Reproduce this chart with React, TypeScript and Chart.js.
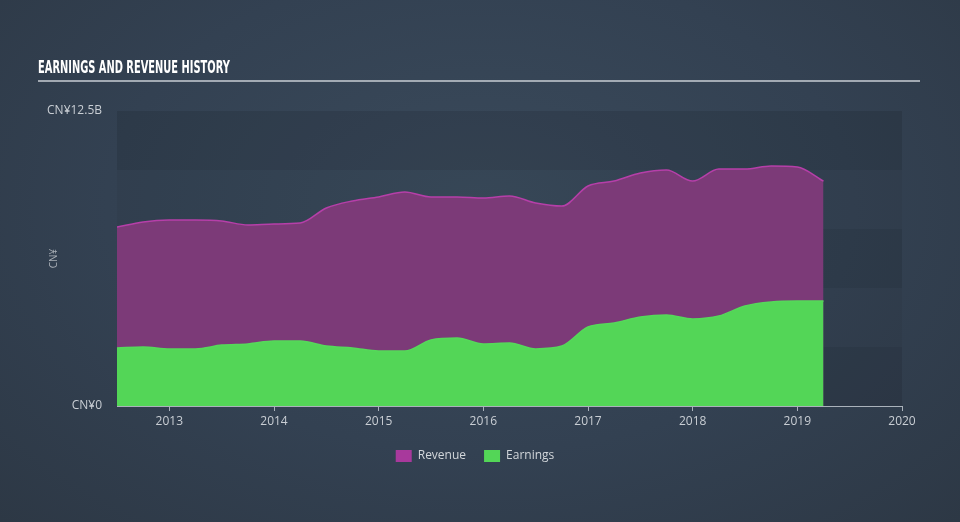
import React, { useEffect, useRef } from "react";
import { Chart, registerables } from "chart.js";

Chart.register(...registerables);

const years = [
  2012.5, 2012.75, 2013.0, 2013.25, 2013.5, 2013.75, 2014.0, 2014.25, 2014.5, 2014.75,
  2015.0, 2015.25, 2015.5, 2015.75, 2016.0, 2016.25, 2016.5, 2016.75, 2017.0, 2017.25,
  2017.5, 2017.75, 2018.0, 2018.25, 2018.5, 2018.75, 2019.0, 2019.25,
];

const revenue = [
  7.58, 7.8, 7.88, 7.88, 7.84, 7.67, 7.71, 7.75, 8.39, 8.69,
  8.86, 9.07, 8.86, 8.86, 8.81, 8.9, 8.6, 8.47, 9.32, 9.53,
  9.87, 10.0, 9.53, 10.04, 10.04, 10.17, 10.13, 9.53,
];

const earnings = [
  2.46, 2.5, 2.42, 2.42, 2.58, 2.63, 2.75, 2.75, 2.54, 2.46,
  2.33, 2.33, 2.8, 2.88, 2.63, 2.67, 2.42, 2.54, 3.35, 3.52,
  3.77, 3.86, 3.69, 3.81, 4.24, 4.41, 4.45, 4.45,
];

const yTickLabels: Record<string, string> = { "0": "CN¥0", "12.5": "CN¥12.5B" };
const xMin = 2012.5;
const xMax = 2020;
const yMax = 12.5;
const yStep = 2.5;

const bandPlugin = {
  id: "bands",
  beforeDraw(chart: any) {
    const { ctx, chartArea, scales } = chart;
    const y = scales.y;
    ctx.save();
    let i = 0;
    for (let v = 0; v < yMax - 1e-9; v += yStep) {
      const top = y.getPixelForValue(v + yStep);
      const bottom = y.getPixelForValue(v);
      ctx.fillStyle = i % 2 === 0 ? "rgba(0,0,0,0.10)" : "rgba(0,0,0,0.04)";
      ctx.fillRect(chartArea.left, top, chartArea.right - chartArea.left, bottom - top);
      i++;
    }
    ctx.restore();
  },
};

export default function App() {
  const canvasRef = useRef<HTMLCanvasElement>(null);
  const titleRef = useRef<HTMLDivElement>(null);

  useEffect(() => {
    if (titleRef.current) {
      const w = titleRef.current.scrollWidth;
      if (w > 0) titleRef.current.style.transform = `scaleX(${192 / w})`;
    }
    const tickFont = { family: "'Open Sans', sans-serif", size: 12 };
    const chart = new Chart(canvasRef.current as HTMLCanvasElement, {
      type: "line",
      data: {
        datasets: [
          {
            label: "Revenue",
            data: years.map((x, i) => ({ x, y: revenue[i] })),
            borderColor: "#b63fa9",
            backgroundColor: "#7c3a78",
            borderWidth: 1.5,
            fill: "origin",
            pointRadius: 0,
            cubicInterpolationMode: "monotone",
            order: 2,
          },
          {
            label: "Earnings",
            data: years.map((x, i) => ({ x, y: earnings[i] })),
            borderColor: "#55d95a",
            backgroundColor: "#53d657",
            borderWidth: 1.5,
            fill: "origin",
            pointRadius: 0,
            cubicInterpolationMode: "monotone",
            order: 1,
          },
        ],
      },
      options: {
        animation: false,
        responsive: false,
        devicePixelRatio: 1,
        layout: { padding: { left: 0, right: 10, top: 111, bottom: 50 } },
        scales: {
          x: {
            type: "linear",
            min: xMin,
            max: xMax,
            grid: {
              display: true,
              drawOnChartArea: false,
              drawTicks: true,
              tickLength: 5,
              color: "#aab2bb",
            },
            border: { display: true, color: "#aab2bb", width: 1 },
            ticks: {
              stepSize: 1,
              includeBounds: false,
              padding: 3,
              color: "#c9ced4",
              font: tickFont,
              maxRotation: 0,
              callback: (v: any) => String(v),
            },
            afterFit: (s: any) => {
              s.height = 26;
            },
          },
          y: {
            min: 0,
            max: yMax,
            grid: { display: false },
            border: { display: false },
            ticks: {
              stepSize: yStep,
              padding: 7,
              color: "#c9ced4",
              font: tickFont,
              callback: (v: any) => yTickLabels[String(v)] ?? "",
            },
            title: {
              display: true,
              text: "CN¥",
              color: "#a9afb6",
              font: { family: "'Open Sans', sans-serif", size: 10 },
              padding: { top: 48, bottom: 0 },
            },
            afterFit: (s: any) => {
              s.width = 117;
            },
          },
          y2: {
            type: "linear",
            position: "right",
            display: true,
            min: 0,
            max: yMax,
            grid: { display: false },
            border: { display: false },
            ticks: { display: false },
            afterFit: (s: any) => {
              s.width = 48;
            },
          },
        },
        plugins: {
          legend: {
            position: "bottom",
            labels: {
              boxWidth: 16,
              boxHeight: 12,
              padding: 18,
              color: "#d2d6da",
              font: { family: "'Open Sans', sans-serif", size: 12 },
              sort: (a: any, b: any) => a.datasetIndex - b.datasetIndex,
              generateLabels: (c: any) =>
                c.data.datasets.map((d: any, i: number) => ({
                  text: d.label,
                  fillStyle: i === 0 ? "#a8399c" : "#53d657",
                  strokeStyle: "transparent",
                  lineWidth: 0,
                  fontColor: "#d2d6da",
                  datasetIndex: i,
                  hidden: false,
                })),
            },
          },
          tooltip: { enabled: false },
        },
      },
      plugins: [bandPlugin],
    } as any);
    return () => chart.destroy();
  }, []);

  return (
    <div
      style={{
        position: "fixed",
        left: 0,
        top: 0,
        width: 960,
        height: 522,
        overflow: "hidden",
        background: "radial-gradient(ellipse at 50% 40%, #3a4a5b 0%, #334152 55%, #2d3845 100%)",
      }}
    >
      <div
        ref={titleRef}
        style={{
          position: "absolute",
          left: 38,
          top: 56,
          whiteSpace: "nowrap",
          transformOrigin: "left top",
          fontFamily: "'Liberation Sans Narrow', 'DejaVu Sans Condensed', sans-serif",
          fontWeight: "bold",
          fontSize: 18,
          lineHeight: "22px",
          color: "#ffffff",
          display: "inline-block",
        }}
      >
        EARNINGS AND REVENUE HISTORY
      </div>
      <div
        style={{
          position: "absolute",
          left: 38,
          top: 80,
          width: 882,
          height: 2,
          background: "rgba(200,206,212,0.75)",
        }}
      />
      <canvas ref={canvasRef} width={960} height={522} style={{ position: "absolute", left: 0, top: 0 }} />
    </div>
  );
}
